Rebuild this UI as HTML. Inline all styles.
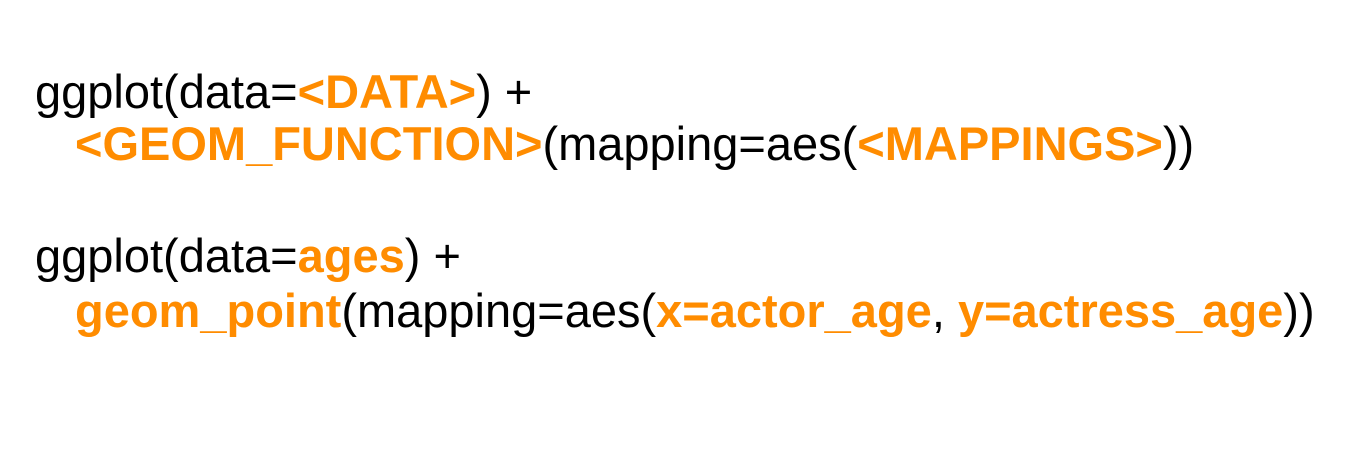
<!DOCTYPE html>
<html><head><style>
body{margin:0;width:1350px;height:454px;background:#fff;overflow:hidden;font-family:"Liberation Sans",Arial,sans-serif;font-size:47px;color:#000;}
.l{position:absolute;white-space:pre;line-height:1;}
.o{color:#ff8c00;font-weight:bold;}
</style></head><body>
<div class="l" style="left:35px;top:68px">ggplot(data=<span class="o">&lt;DATA&gt;</span>) +</div>
<div class="l" style="left:75px;top:120px"><span class="o">&lt;GEOM_FUNCTION&gt;</span>(mapping=aes(<span class="o">&lt;MAPPINGS&gt;</span>))</div>
<div class="l" style="left:35px;top:232px">ggplot(data=<span class="o">ages</span>) +</div>
<div class="l" style="left:75px;top:287px"><span class="o">geom_point</span>(mapping=aes(<span class="o">x=actor_age</span>, <span class="o">y=actress_age</span>))</div>
</body></html>
